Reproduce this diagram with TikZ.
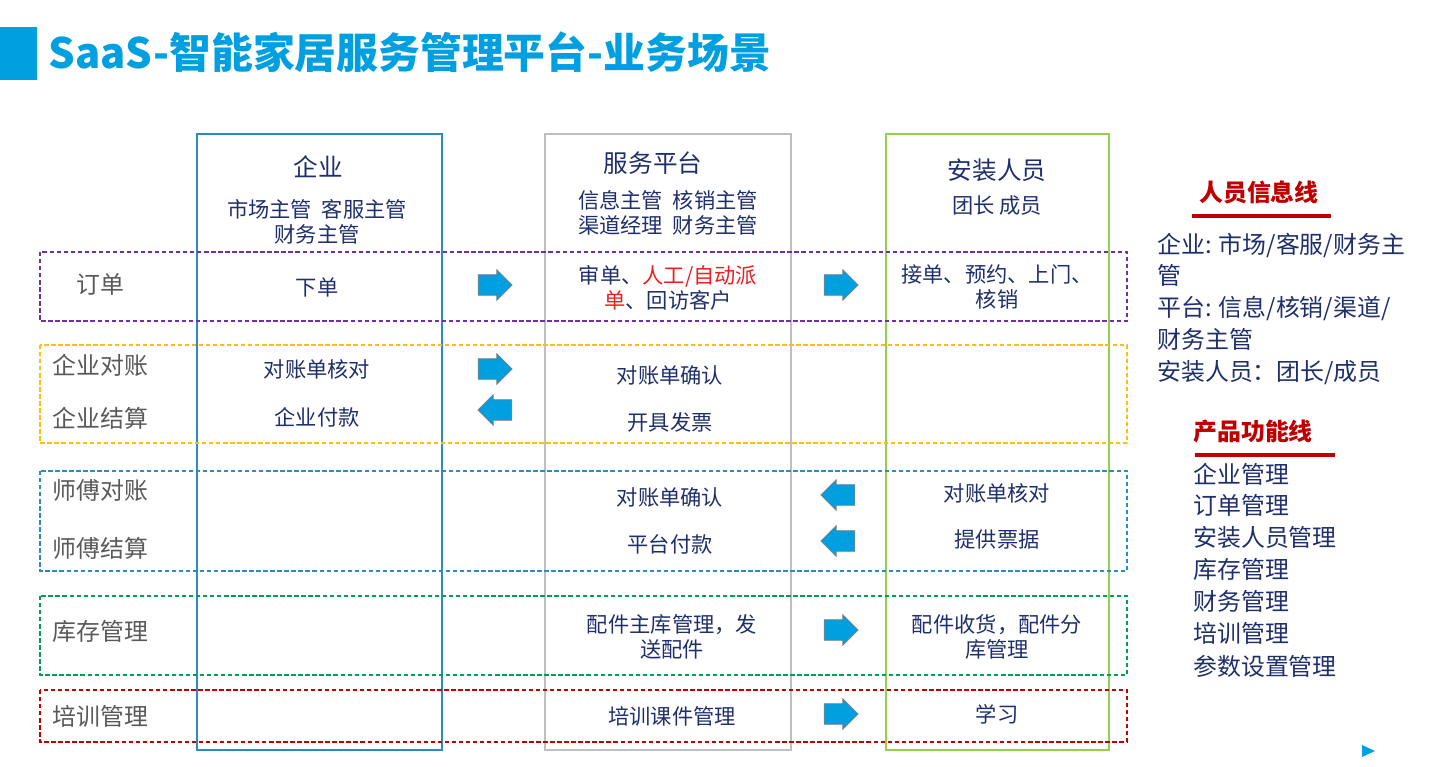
\documentclass[tikz,border=0pt]{standalone}
\usepackage{fontspec}
\setmainfont{Noto Sans CJK SC}
\usetikzlibrary{shapes.arrows}
\definecolor{ttl}{HTML}{00A0E0}
\definecolor{ink}{HTML}{1F2F6B}
\definecolor{lbl}{HTML}{595959}
\definecolor{hot}{HTML}{C00000}
\definecolor{hot2}{HTML}{E8201E}
\definecolor{qcol}{HTML}{2E8BC0}
\definecolor{pcol}{HTML}{BFBFBF}
\definecolor{acol}{HTML}{92D050}
\definecolor{arw}{HTML}{00A0E0}
\definecolor{bviolet}{HTML}{7030A0}
\definecolor{byellow}{HTML}{FFC000}
\definecolor{bgreen}{HTML}{00A050}
\begin{document}
\begin{tikzpicture}[
  x=0.02cm, y=-0.02cm,
  every node/.style={inner sep=0pt,text=ink},
  body/.style={font=\fontsize{12.1}{14.3}\selectfont,align=center},
  head/.style={font=\fontsize{14}{16}\selectfont},
  row/.style={font=\fontsize{13.6}{15}\selectfont,text=lbl,anchor=west},
  side/.style={font=\fontsize{13.6}{16}\selectfont,anchor=west},
  band/.style={dash pattern=on 2.5pt off 1.5pt,line width=0.7pt},
  blk/.style={single arrow,draw=gray,fill=arw,line width=0.4pt,
    minimum height=0.68cm,minimum width=0.6cm,inner sep=0.2cm,
    single arrow head extend=0.1cm},
  blkl/.style={blk,shape border rotate=180}
]
  \useasboundingbox (0,0) rectangle (1438,767);

  \fill[ttl] (0,27) rectangle (37,80);
  \node[anchor=west,text=ttl,font=\fontsize{23.8}{26}\selectfont\bfseries]
    (title) at (48,52) {SaaS-智能家居服务管理平台-业务场景};

  \draw[qcol,line width=0.7pt] (197,134) rectangle (442,750);
  \draw[pcol,line width=0.7pt] (545,134) rectangle (791,750);
  \draw[acol,line width=0.7pt] (886,134) rectangle (1109,750);

  \draw[band,draw=bviolet] (40,252) rectangle (1127,321);
  \draw[band,draw=byellow] (40,345) rectangle (1127,443);
  \draw[band,draw=qcol] (40,471) rectangle (1127,571);
  \draw[band,draw=bgreen] (40,596) rectangle (1127,675);
  \draw[band,draw=hot] (40,690) rectangle (1127,742);

  \node[head] (qy) at (318,167) {企业};
  \node[body] (qyr) at (317,222) {市场主管\ \ 客服主管\\财务主管};
  \node[head] (pt) at (653,163) {服务平台};
  \node[body] (ptr) at (668,213) {信息主管\ \ 核销主管\\渠道经理\ \ 财务主管};
  \node[head] (az) at (997,170) {安装人员};
  \node[body] (azr) at (997,206) {团长 成员};

  \node[row] (rdd) at (76,284) {订单};
  \node[row] (rqd) at (52,365) {企业对账};
  \node[row] (rqj) at (52,418) {企业结算};
  \node[row] (rsd) at (52,490) {师傅对账};
  \node[row] (rsj) at (52,548) {师傅结算};
  \node[row] (rkc) at (52,631) {库存管理};
  \node[row] (rpx) at (52,716) {培训管理};

  \node[body] (qdd) at (317,287) {下单};
  \node[body] (pdd) at (668,288)
    {审单、\textcolor{hot2}{人工/自动派}\\\textcolor{hot2}{单}、回访客户};
  \node[body] (add) at (997,287) {接单、预约、上门、\\核销};
  \node[blk] (a1) at (490,285) {};
  \node[blk] (a2) at (836,285) {};

  \node[body] (qqd) at (317,369) {对账单核对};
  \node[body] (qqj) at (317,417) {企业付款};
  \node[body] (pqd) at (670,375) {对账单确认};
  \node[body] (pqj) at (670,422) {开具发票};
  \node[blk] (a3) at (490,369) {};
  \node[blkl] (a4) at (500,410) {};

  \node[body] (psd) at (670,497) {对账单确认};
  \node[body] (psj) at (670,544) {平台付款};
  \node[body] (asd) at (997,493) {对账单核对};
  \node[body] (asj) at (997,539) {提供票据};
  \node[blkl] (a5) at (843,495) {};
  \node[blkl] (a6) at (843,541) {};

  \node[body] (pkc) at (672,637) {配件主库管理，发\\送配件};
  \node[body] (akc) at (997,637) {配件收货，配件分\\库管理};
  \node[blk] (a7) at (836,630) {};

  \node[body] (ppx) at (672,716) {培训课件管理};
  \node[body] (apx) at (997,714) {学习};
  \node[blk] (a8) at (836,714) {};

  \node[side,anchor=center,text=hot,font=\fontsize{13.6}{16}\selectfont\bfseries]
    (ry) at (1259,192) {人员信息线};
  \draw[hot,line width=2.2pt] (1192,216) -- (1331,216);
  \node[side] (ry1) at (1157,245) {企业: 市场/客服/财务主};
  \node[side] (ry2) at (1157,275) {管};
  \node[side] (ry3) at (1157,308) {平台: 信息/核销/渠道/};
  \node[side] (ry4) at (1157,339) {财务主管};
  \node[side] (ry5) at (1157,373) {安装人员：团长/成员};

  \node[side,text=hot,font=\fontsize{13.6}{16}\selectfont\bfseries]
    (cp) at (1193,432) {产品功能线};
  \draw[hot,line width=2.2pt] (1195,455) -- (1335,455);
  \node[side] (cp1) at (1193,474) {企业管理};
  \node[side] (cp2) at (1193,505) {订单管理};
  \node[side] (cp3) at (1193,537) {安装人员管理};
  \node[side] (cp4) at (1193,569) {库存管理};
  \node[side] (cp5) at (1193,601) {财务管理};
  \node[side] (cp6) at (1193,633) {培训管理};
  \node[side] (cp7) at (1193,666) {参数设置管理};

  \fill[arw] (1362,745) -- (1375,751) -- (1362,757) -- cycle;
\end{tikzpicture}
\end{document}
